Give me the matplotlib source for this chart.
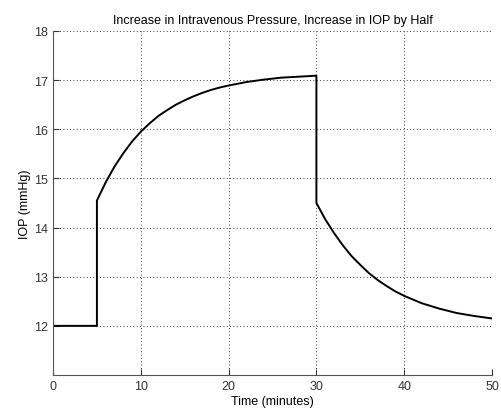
import matplotlib.pyplot as plt
import numpy as np

plt.rcParams['font.family'] = ['Liberation Sans', 'DejaVu Sans']

# readings (minutes, mmHg)
time_min = [0, 5, 5, 6, 7, 8, 9, 10, 11, 12, 13, 14, 15, 16, 17, 18, 19, 20,
            22, 24, 26, 28, 30, 30, 31, 32, 33, 34, 35, 36, 37, 38, 39, 40,
            42, 44, 46, 48, 50]
iop = [12.0, 12.0, 14.55, 14.92, 15.24, 15.51, 15.75, 15.95, 16.12, 16.27,
       16.39, 16.50, 16.59, 16.67, 16.74, 16.80, 16.85, 16.89,
       16.96, 17.01, 17.05, 17.07, 17.09, 14.50, 14.17, 13.89, 13.64, 13.42,
       13.24, 13.07, 12.93, 12.81, 12.70, 12.61,
       12.46, 12.35, 12.26, 12.20, 12.15]

x_ticks = [0, 10, 20, 30, 40, 50]
y_ticks = [12, 13, 14, 15, 16, 17, 18]

fig = plt.figure(figsize=(5.02, 4.14), dpi=100)
ax = fig.add_axes([0.1056, 0.0918, 0.8745, 0.831])

ax.plot(time_min, iop, color="k", linewidth=1.4)

ax.set_xlim(0, 50)
ax.set_ylim(11, 18)
ax.set_xticks(x_ticks)
ax.set_yticks(y_ticks)
ax.grid(True, linestyle=(0, (1, 3)), color="k", linewidth=0.6)

for side in ("top", "right"):
    ax.spines[side].set_visible(False)
for side in ("left", "bottom"):
    ax.spines[side].set_color("#555555")
ax.tick_params(direction="in", length=4, labelsize=9, colors="#333333")

ax.set_title("Increase in Intravenous Pressure, Increase in IOP by Half", fontsize=9)
ax.set_xlabel("Time (minutes)", fontsize=9, labelpad=2)
ax.set_ylabel("IOP (mmHg)", fontsize=9, labelpad=2)

fig.savefig("out.png", dpi=100)
